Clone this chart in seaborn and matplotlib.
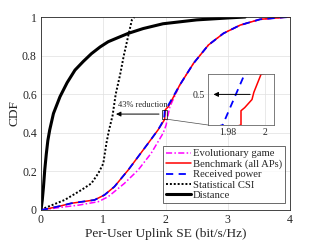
import numpy as np
import pandas as pd
import matplotlib
matplotlib.use('Agg')
import matplotlib.pyplot as plt
import seaborn as sns
from matplotlib.patches import Rectangle, ConnectionPatch

# Datos (SE por usuario, CDF)
evo_se = [0, 0.1, 0.3, 0.6, 0.92, 1.08, 1.34, 1.56, 1.77, 1.96, 2.01, 2.04, 2.07, 2.23, 2.45, 2.69, 2.93, 3.2, 3.52, 3.89, 4.0]
evo_cdf = [0, 0.004, 0.013, 0.025, 0.043, 0.069, 0.138, 0.207, 0.294, 0.397, 0.44, 0.49, 0.535, 0.648, 0.76, 0.855, 0.915, 0.958, 0.988, 0.998, 1.0]

bench_se = [0, 0.1, 0.3, 0.49, 0.86, 1.02, 1.18, 1.4, 1.56, 1.72, 1.88, 1.93, 1.987, 1.987, 1.989, 1.993, 1.994, 1.998, 2.045, 2.23, 2.45, 2.69, 2.93, 3.2, 3.52, 3.89, 4.0]
bench_cdf = [0, 0.006, 0.02, 0.035, 0.052, 0.078, 0.121, 0.207, 0.276, 0.345, 0.415, 0.44, 0.47, 0.484, 0.487, 0.495, 0.502, 0.52, 0.535, 0.648, 0.76, 0.855, 0.915, 0.958, 0.988, 0.998, 1.0]

rx_se = [0, 0.1, 0.3, 0.49, 0.86, 1.02, 1.18, 1.4, 1.56, 1.72, 1.88, 1.925, 1.977, 1.989, 2.04, 2.23, 2.45, 2.69, 2.93, 3.2, 3.52, 3.89, 4.0]
rx_cdf = [0, 0.006, 0.02, 0.035, 0.052, 0.078, 0.121, 0.207, 0.276, 0.345, 0.415, 0.44, 0.47, 0.52, 0.54, 0.648, 0.76, 0.855, 0.915, 0.958, 0.988, 0.998, 1.0]

stat_se = [0, 0.06, 0.38, 0.65, 0.81, 0.92, 1.0, 1.05, 1.09, 1.15, 1.2, 1.27, 1.33, 1.4, 1.46, 1.5]
stat_cdf = [0, 0.01, 0.052, 0.104, 0.138, 0.19, 0.24, 0.345, 0.41, 0.49, 0.6, 0.7, 0.8, 0.9, 0.985, 1.0]

dist_se = [0, 0.02, 0.04, 0.06, 0.085, 0.11, 0.14, 0.2, 0.305, 0.42, 0.546, 0.68, 0.81, 0.95, 1.08, 1.25, 1.4, 1.64, 1.96, 2.5, 3.0, 3.28]
dist_cdf = [0, 0.05, 0.12, 0.207, 0.29, 0.36, 0.415, 0.5, 0.587, 0.66, 0.725, 0.77, 0.81, 0.845, 0.872, 0.895, 0.915, 0.94, 0.965, 0.985, 0.995, 1.0]

series = [
    ('Distance', dist_se, dist_cdf, dict(color='k', lw=2.2, ls='-')),
    ('Statistical CSI', stat_se, stat_cdf, dict(color='k', lw=1.4, ls=(0, (1, 1)))),
    ('Evolutionary game', evo_se, evo_cdf, dict(color='#ff00ff', lw=1.1, ls=(0, (4, 1.5, 1, 1.5)))),
    ('Benchmark (all APs)', bench_se, bench_cdf, dict(color='#ff0000', lw=1.1, ls='-')),
    ('Received power', rx_se, rx_cdf, dict(color='#0000ff', lw=1.3, ls=(0, (4, 3)))),
]
orden_leyenda = ['Evolutionary game', 'Benchmark (all APs)', 'Received power', 'Statistical CSI', 'Distance']

sns.set_style('white')
plt.rcParams['font.family'] = ['Liberation Serif', 'DejaVu Serif']

fig = plt.figure(figsize=(3.21, 2.41), dpi=100)
ax = fig.add_axes([41 / 321, 31 / 241, 249 / 321, 193 / 241])

for nombre, xs, ys, estilo in series:
    df = pd.DataFrame({'se': xs, 'cdf': ys})
    sns.lineplot(data=df, x='se', y='cdf', ax=ax, estimator=None, sort=False,
                 label=nombre, **estilo)
h, l = ax.get_legend_handles_labels()
handles = dict(zip(l, h))

ax.set_xlim(0, 4)
ax.set_ylim(0, 1)
ax.set_xticks([0, 1, 2, 3, 4])
ax.set_yticks([0, 0.2, 0.4, 0.6, 0.8, 1])
ax.set_yticklabels(['0', '0.2', '0.4', '0.6', '0.8', '1'])
ax.tick_params(labelsize=8.5, direction='in', length=2, width=0.5, colors='0.15', pad=3)
ax.grid(True, color='0.88', lw=0.5)
for s in ax.spines.values():
    s.set_color('0.15')
    s.set_linewidth(0.6)
ax.set_xlabel('Per-User Uplink SE (bit/s/Hz)', fontsize=9.6, labelpad=1)
ax.set_ylabel('CDF', fontsize=9.6, labelpad=1)

leg = ax.legend([handles[k] for k in orden_leyenda], orden_leyenda, loc='lower right',
                bbox_to_anchor=(0.98, 0.035), fontsize=7.7, frameon=True, fancybox=False,
                handlelength=2.3, handletextpad=0.15, labelspacing=0.08, borderpad=0.3,
                borderaxespad=0)
leg.get_frame().set_edgecolor('0.15')
leg.get_frame().set_linewidth(0.6)

# flecha de reduccion
ax.annotate('', xy=(1.16, 0.497), xytext=(1.94, 0.497),
            arrowprops=dict(arrowstyle='-|>', color='k', lw=0.7, mutation_scale=7))
ax.text(1.63, 0.525, '43% reduction', fontsize=6, ha='center', va='bottom')
ax.add_patch(Rectangle((1.94, 0.47), 0.09, 0.05, fill=False, ec='k', lw=0.5, zorder=5))

# zoom
ax_in = fig.add_axes([208 / 321, 116 / 241, 66 / 321, 51 / 241])
for nombre, xs, ys, estilo in series:
    df = pd.DataFrame({'se': xs, 'cdf': ys})
    sns.lineplot(data=df, x='se', y='cdf', ax=ax_in, estimator=None, sort=False,
                 legend=False, **estilo)
ax_in.set_xlim(1.969, 2.005)
ax_in.set_ylim(0.47, 0.52)
ax_in.set_xticks([1.98, 2])
ax_in.set_xticklabels(['1.98', '2'])
ax_in.set_yticks([0.5])
ax_in.set_yticklabels(['0.5'])
ax_in.set_xlabel('')
ax_in.set_ylabel('')
ax_in.tick_params(labelsize=7, direction='in', length=2, width=0.5, colors='0.15', pad=2)
ax_in.grid(True, color='0.88', lw=0.5)
for s in ax_in.spines.values():
    s.set_color('0.4')
    s.set_linewidth(0.6)
ax_in.annotate('', xy=(1.9705, 0.5), xytext=(1.9935, 0.5),
               arrowprops=dict(arrowstyle='-|>', color='k', lw=0.7, mutation_scale=7))

con = ConnectionPatch(xyA=(2.03, 0.47), coordsA=ax.transData, xyB=(0, 0),
                      coordsB=ax_in.transAxes, color='0.3', lw=0.5)
fig.add_artist(con)

fig.savefig('out.png', dpi=100)
